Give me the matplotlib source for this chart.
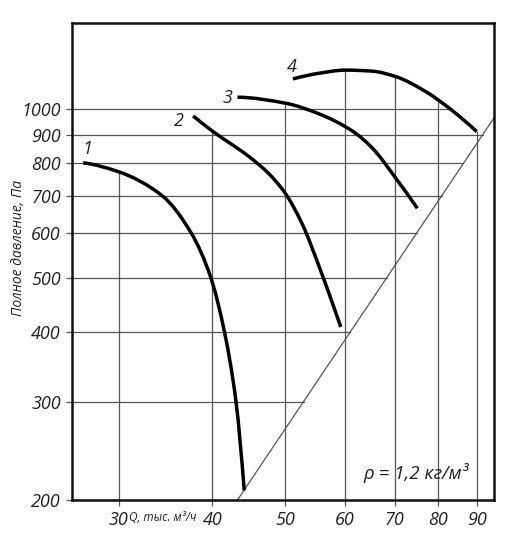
import numpy as np
import matplotlib.pyplot as plt
from matplotlib.path import Path
from matplotlib.patches import PathPatch

# fan curves: flow Q (thousand m3/h) and total pressure (Pa)
q1 = [26.9, 30.0, 34.3, 37.5, 39.8, 41.5, 43.0, 44.1]
p1 = [802, 773, 700, 600, 500, 400, 300, 208]
q2 = [37.7, 40.0, 44.8, 47.6, 50.0, 52.7, 55.5, 57.8, 59.3]
p2 = [973, 914, 822, 766, 708, 623, 523, 450, 408]
q3 = [43.2, 50.1, 55.5, 61.4, 65.3, 70.2, 75.0]
p3 = [1051, 1025, 981, 915, 853, 753, 665]
q4 = [51.2, 55.5, 60.2, 65.3, 70.2, 77.0, 83.3, 90.0]
p4 = [1133, 1160, 1175, 1170, 1144, 1075, 997, 912]
curve_names = ['1', '2', '3', '4']

x_ticks = [30, 40, 50, 60, 70, 80, 90]
y_ticks = [200, 300, 400, 500, 600, 700, 800, 900, 1000]

q_diag0 = 43.2  # network line P ~ Q^2 crosses 200 Pa here

FONT = 'Open Sans'
grid_c = '#555555'
txt_c = '#222222'
label_off = [(4, 14), (-14, -5), (-10, -1), (-1, 12)]  # pixels from curve start

fig = plt.figure(figsize=(5.21, 5.39), dpi=100)
ax = fig.add_axes([0.1382, 0.0724, 0.81, 0.8844])
ax.set_xscale('log')
ax.set_yscale('log')
ax.set_xlim(26.0, 94.9)
ax.set_ylim(200, 1425)

curves = [(q1, p1), (q2, p2), (q3, p3), (q4, p4)]


def envelope(q):
    top = 200
    for qs, ps in curves:
        if qs[0] <= q <= qs[-1]:
            v = 10 ** np.interp(np.log10(q), np.log10(qs), np.log10(ps))
            top = max(top, v)
    return top


def smooth_path(qs, ps):
    # monotone (Fritsch-Carlson) Hermite through the read points, as Bezier segments
    x = np.log10(qs)
    y = np.log10(ps)
    h = np.diff(x)
    dl = np.diff(y) / h
    n = len(x)
    d = np.zeros(n)
    for k in range(1, n - 1):
        if dl[k - 1] * dl[k] > 0:
            w1 = 2 * h[k] + h[k - 1]
            w2 = h[k] + 2 * h[k - 1]
            d[k] = (w1 + w2) / (w1 / dl[k - 1] + w2 / dl[k])
    for k, j, s in [(0, 0, 1), (n - 1, n - 2, -1)]:
        j2 = j + s
        e = ((2 * h[j] + h[j2]) * dl[j] - h[j] * dl[j2]) / (h[j] + h[j2])
        if np.sign(e) != np.sign(dl[j]):
            e = 0
        elif np.sign(dl[j]) != np.sign(dl[j2]) and abs(e) > abs(3 * dl[j]):
            e = 3 * dl[j]
        d[k] = e
    verts = [(x[0], y[0])]
    codes = [Path.MOVETO]
    for k in range(n - 1):
        verts += [(x[k] + h[k] / 3, y[k] + d[k] * h[k] / 3),
                  (x[k + 1] - h[k] / 3, y[k + 1] - d[k + 1] * h[k] / 3),
                  (x[k + 1], y[k + 1])]
        codes += [Path.CURVE4] * 3
    return Path(10 ** np.array(verts), codes)


# vertical grid: from the upper curve down to the bottom
for q in x_ticks:
    ax.plot([q, q], [envelope(q), 200], color=grid_c, lw=0.9, zorder=1)

# horizontal grid: from the left edge to the network line (or curve 4)
i_peak = int(np.argmax(p4))
right_q = q4[i_peak:][::-1]
right_p = p4[i_peak:][::-1]
for p in y_ticks:
    q_end = q_diag0 * np.sqrt(p / 200)
    if right_p[0] <= p <= right_p[-1]:
        q_end = min(q_end, 10 ** np.interp(np.log10(p), np.log10(right_p), np.log10(right_q)))
    ax.plot([26.0, q_end], [p, p], color=grid_c, lw=0.9, zorder=1)

# network characteristic
qd = np.array([q_diag0, 94.9])
ax.plot(qd, 200 * (qd / q_diag0) ** 2, color=grid_c, lw=0.9, zorder=1)

for (qs, ps), name, off in zip(curves, curve_names, label_off):
    ax.add_patch(PathPatch(smooth_path(qs, ps), facecolor='none', edgecolor='black',
                           lw=2.5, capstyle='butt', zorder=3))
    ax.annotate(name, (qs[0], ps[0]), xytext=off, textcoords='offset pixels',
                ha='center', va='center', fontsize=13, style='italic',
                family=FONT, color=txt_c)

ax.set_xticks(x_ticks)
ax.set_xticklabels([str(v) for v in x_ticks])
ax.set_yticks(y_ticks)
ax.set_yticklabels([str(v) for v in y_ticks])
ax.minorticks_off()
ax.tick_params(length=4, width=0.9, color=grid_c, pad=4)
for lab in ax.get_xticklabels() + ax.get_yticklabels():
    lab.set_fontfamily(FONT)
    lab.set_fontstyle('italic')
    lab.set_fontsize(13)
    lab.set_color(txt_c)

for s in ax.spines.values():
    s.set_linewidth(1.8)
    s.set_color('#111111')

ax.text(0.134, -0.036, 'Q, тыс. м³/ч', transform=ax.transAxes, fontsize=8.5,
        style='italic', family=FONT, color=txt_c, va='center', ha='left')
fig.text(0.035, 0.54, 'Полное давление, Па', rotation=90, fontsize=10,
         style='italic', family=FONT, color=txt_c, va='center', ha='center')
ax.text(0.815, 0.057, 'ρ = 1,2 кг/м³', transform=ax.transAxes, fontsize=13.5,
        style='italic', family=FONT, color=txt_c, va='center', ha='center')

fig.savefig('out.png', dpi=100)
